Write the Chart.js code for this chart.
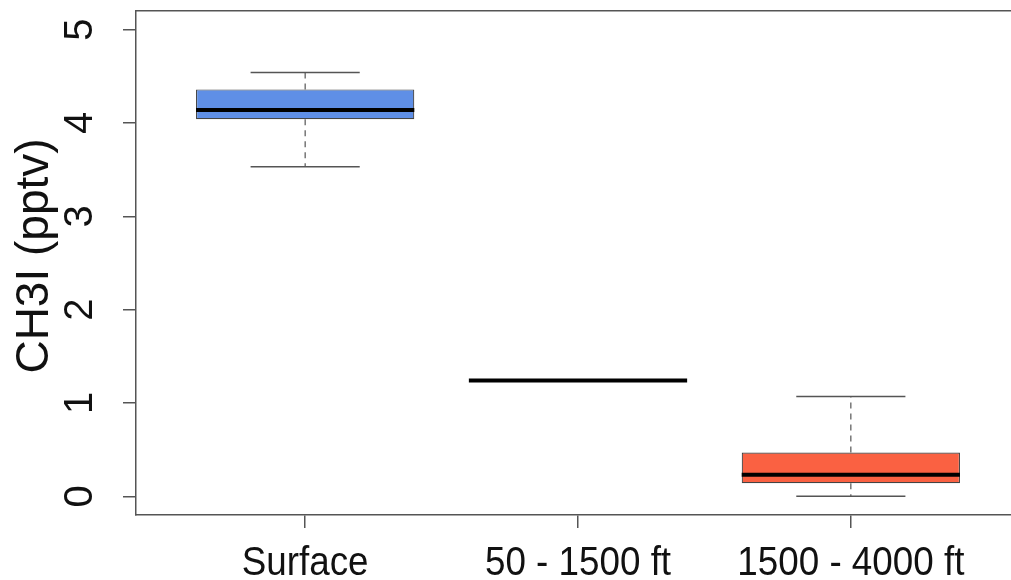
<!DOCTYPE html>
<html>
<head>
<meta charset="utf-8">
<script src="https://cdn.jsdelivr.net/npm/chart.js@4"></script>
<style>
  html, body { margin: 0; padding: 0; background: #ffffff; overflow: hidden; }
  /* the original figure is cropped on the right, just past the frame */
  #wrap { width: 1020px; height: 580px; }
</style>
</head>
<body>
<div id="wrap"><canvas id="chart"></canvas></div>
<script>
// boxplot summary per altitude group
const categories = ["Surface", "50 - 1500 ft", "1500 - 4000 ft"];
const positions = [1, 2, 3];
const whiskerLow = [3.53, 1.24, 0.00];
const quartile1 = [4.04, 1.24, 0.14];
const medians = [4.14, 1.24, 0.23];
const quartile3 = [4.36, 1.24, 0.47];
const whiskerHigh = [4.54, 1.24, 1.07];
const boxColors = ["#5f8fe6", "#ffffff", "#fa6142"];
const yTicks = [0, 1, 2, 3, 4, 5];
const yTitle = "CH3I (pptv)";

const FONT = '"Liberation Sans", Arial, Helvetica, sans-serif';
const AXIS = "#555555";

// whiskers, medians and all texts
const boxplotExtras = {
  id: "boxplotExtras",
  afterDatasetsDraw(chart) {
    const ctx = chart.ctx;
    const x = chart.scales.x;
    const y = chart.scales.y;
    const unit = x.getPixelForValue(1) - x.getPixelForValue(0);
    ctx.save();
    positions.forEach((p, i) => {
      const cx = x.getPixelForValue(p);
      // dashed whisker stems
      ctx.strokeStyle = AXIS;
      ctx.lineWidth = 1.2;
      ctx.setLineDash([6, 5]);
      ctx.beginPath();
      ctx.moveTo(cx, y.getPixelForValue(quartile3[i]));
      ctx.lineTo(cx, y.getPixelForValue(whiskerHigh[i]));
      ctx.moveTo(cx, y.getPixelForValue(quartile1[i]));
      ctx.lineTo(cx, y.getPixelForValue(whiskerLow[i]));
      ctx.stroke();
      // caps
      ctx.setLineDash([]);
      ctx.lineWidth = 1.5;
      ctx.beginPath();
      [whiskerLow[i], whiskerHigh[i]].forEach(v => {
        const py = y.getPixelForValue(v);
        ctx.moveTo(cx - unit * 0.2, py);
        ctx.lineTo(cx + unit * 0.2, py);
      });
      ctx.stroke();
      // median
      ctx.strokeStyle = "#000000";
      ctx.lineWidth = 4;
      ctx.beginPath();
      const my = y.getPixelForValue(medians[i]);
      ctx.moveTo(cx - unit * 0.4, my);
      ctx.lineTo(cx + unit * 0.4, my);
      ctx.stroke();
    });
    ctx.restore();
  },
  afterDraw(chart) {
    const ctx = chart.ctx;
    const x = chart.scales.x;
    const y = chart.scales.y;
    ctx.save();
    ctx.fillStyle = "#111111";
    ctx.font = "40px " + FONT;
    // category labels
    ctx.textAlign = "center";
    ctx.textBaseline = "alphabetic";
    positions.forEach((p, i) => {
      ctx.save();
      ctx.translate(x.getPixelForValue(p), 575);
      ctx.scale(0.92, 1);
      ctx.fillText(categories[i], 0, 0);
      ctx.restore();
    });
    // y tick labels, parallel to the axis
    yTicks.forEach(v => {
      ctx.save();
      ctx.translate(92, y.getPixelForValue(v));
      ctx.rotate(-Math.PI / 2);
      ctx.fillText(String(v), 0, 0);
      ctx.restore();
    });
    // y title
    ctx.font = "46px " + FONT;
    ctx.save();
    ctx.translate(48, 256);
    ctx.rotate(-Math.PI / 2);
    ctx.fillText(yTitle, 0, 0);
    ctx.restore();
    ctx.restore();
  }
};

new Chart(document.getElementById("chart"), {
  type: "bar",
  data: {
    datasets: [{
      data: positions.map((p, i) => ({ x: p, y: [quartile1[i], quartile3[i]] })),
      backgroundColor: boxColors,
      borderColor: "#444444",
      borderWidth: 1.2,
      borderSkipped: false,
      categoryPercentage: 1,
      barPercentage: 0.8
    }]
  },
  options: {
    responsive: true,
    maintainAspectRatio: false,
    animation: false,
    layout: { padding: { top: 11, right: 0, left: 0, bottom: 0 } },
    plugins: { legend: { display: false }, tooltip: { enabled: false } },
    scales: {
      x: {
        type: "linear",
        offset: false,
        min: 0.38,
        max: 3.62,
        afterBuildTicks: s => { s.ticks = positions.map(v => ({ value: v })); },
        afterFit: s => { s.height = 65; },
        ticks: { display: false },
        grid: { offset: false, drawOnChartArea: false, tickLength: 13, color: AXIS, lineWidth: 1.5 },
        border: { display: true, color: AXIS, width: 1.5 }
      },
      // top edge of the box frame
      xTop: {
        type: "linear",
        position: "top",
        offset: false,
        min: 0.38,
        max: 3.62,
        afterFit: s => { s.height = 0; },
        ticks: { display: false },
        grid: { display: false },
        border: { display: true, color: AXIS, width: 1.5 }
      },
      y: {
        min: -0.2,
        max: 5.2,
        afterBuildTicks: s => { s.ticks = yTicks.map(v => ({ value: v })); },
        afterFit: s => { s.width = 136; },
        ticks: { display: false },
        grid: { drawOnChartArea: false, tickLength: 13, color: AXIS, lineWidth: 1.5 },
        border: { display: true, color: AXIS, width: 1.5 }
      }
    }
  },
  plugins: [boxplotExtras]
});
</script>
</body>
</html>
